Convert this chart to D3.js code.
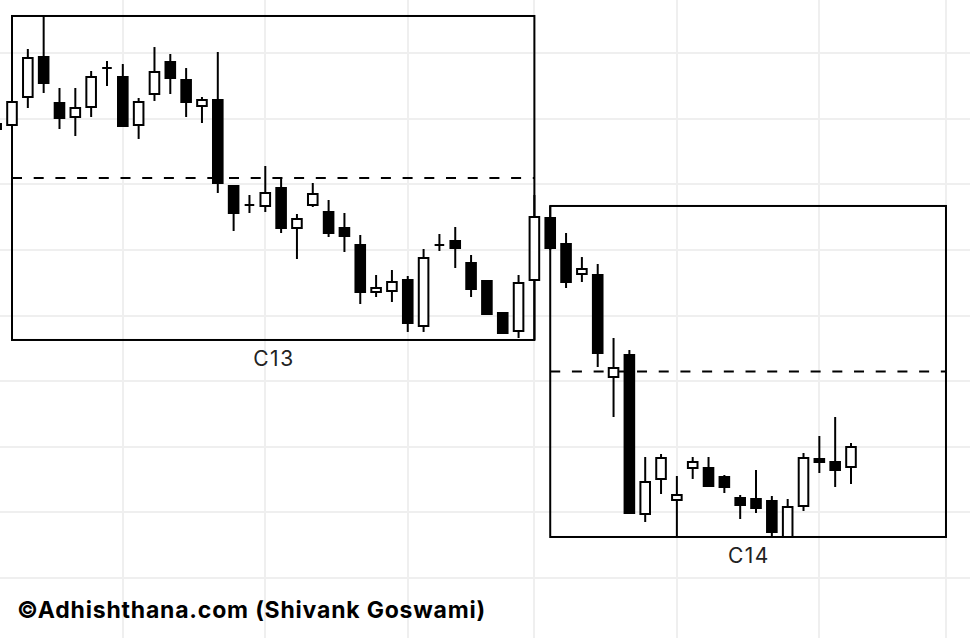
<!DOCTYPE html>
<html>
<head>
<meta charset="utf-8">
<script src="https://cdn.jsdelivr.net/npm/d3@7"></script>
<style>
  html, body { margin: 0; padding: 0; background: #fff; }
  svg { display: block; }
</style>
</head>
<body>
<div id="chart"></div>
<script>
// ---- data ----
const candleIdx = d3.range(0, 55);
const openVals  = [169.18,169.03,173.30,179.39,172.38,170.25,171.77,177.71,176.34,169.03,173.75,178.63,175.89,171.92,172.84,159.73,156.84,156.69,159.43,153.33,156.84,155.77,153.33,150.74,143.58,143.73,145.41,138.40,150.74,151.35,148.00,145.26,140.38,137.64,145.41,154.86,150.90,146.32,146.17,130.63,133.98,109.75,115.09,111.89,116.76,116.76,115.39,112.19,112.04,111.73,106.25,110.97,118.13,117.68,116.91];
const highVals  = [169.49,173.14,180.61,185.64,174.67,174.67,177.26,178.78,178.32,173.14,180.91,179.85,177.71,173.30,180.15,159.73,158.36,162.78,161.10,155.47,160.19,157.60,155.62,152.27,146.17,146.93,146.02,150.13,152.42,153.49,149.22,145.41,140.53,146.17,158.36,156.69,152.57,148.91,147.85,136.57,134.74,118.44,118.90,115.54,118.44,118.44,115.70,112.65,116.46,112.50,112.04,119.05,121.64,124.53,120.57];
const lowVals   = [168.11,168.57,171.62,173.90,168.42,167.35,170.25,174.97,168.72,166.90,172.69,173.75,170.25,169.33,158.67,152.88,155.62,155.77,152.57,148.61,156.53,151.96,149.68,141.75,142.82,142.06,137.49,137.49,149.83,147.24,142.82,140.08,137.33,136.57,136.27,149.98,144.19,145.10,132.15,124.53,109.75,108.53,112.80,106.25,115.09,113.87,112.95,108.99,109.90,106.25,106.25,110.21,116.00,113.87,114.32];
const closeVals = [168.42,172.53,179.24,175.43,170.10,171.62,176.34,177.71,168.88,172.53,177.10,176.19,172.53,172.84,160.19,155.62,156.84,158.67,153.33,154.70,158.51,152.57,152.11,143.58,144.19,145.10,138.86,148.76,150.74,150.29,144.04,140.23,137.33,144.95,155.01,150.29,145.10,147.09,134.29,132.00,109.90,114.63,118.29,112.65,117.68,114.02,113.87,111.12,110.67,107.01,110.82,118.29,117.68,116.46,119.96];

const priceTicks = [100, 110, 120, 130, 140, 150, 160, 170, 180];
const gridIdx = [8, 17, 26, 34, 43, 52, 60];

const boxLabels = ["C13", "C14"];
const boxFirst  = [1, 35];   // first candle in box
const boxLast   = [34, 54];  // last candle in box
const boxEdge   = [34, 60];  // right edge (index)

const creditText = "\u00A9Adhishthana.com (Shivank Goswami)";

// ---- layout ----
const W = 970, H = 638;
const svg = d3.select("#chart").append("svg").attr("width", W).attr("height", H);

const x = d3.scaleLinear().domain([1, 54]).range([12, 851]);
const y = d3.scaleLinear().domain([100, 180]).range([578, 53]);

// grid
const grid = svg.append("g");
grid.selectAll("line.h").data(priceTicks).join("line")
  .attr("x1", 0).attr("x2", W)
  .attr("y1", d => Math.round(y(d))).attr("y2", d => Math.round(y(d)))
  .attr("stroke", "#efefef").attr("stroke-width", 2);
grid.selectAll("line.v").data(gridIdx).join("line")
  .attr("y1", 0).attr("y2", H)
  .attr("x1", d => Math.round(x(d))).attr("x2", d => Math.round(x(d)))
  .attr("stroke", "#efefef").attr("stroke-width", 2);

// boxes
const boxes = boxLabels.map((lab, k) => {
  const idx = d3.range(boxFirst[k], boxLast[k] + 1);
  const hi = d3.max(idx, i => highVals[i]);
  const lo = d3.min(idx, i => lowVals[i]);
  return { lab, x0: x(boxFirst[k]), x1: x(boxEdge[k]), hi, lo, mid: (hi + lo) / 2 };
});
const bg = svg.append("g");
bg.selectAll("rect").data(boxes).join("rect")
  .attr("x", d => d.x0).attr("y", d => y(d.hi))
  .attr("width", d => d.x1 - d.x0).attr("height", d => y(d.lo) - y(d.hi))
  .attr("fill", "none").attr("stroke", "#000").attr("stroke-width", 2);
bg.selectAll("line.mid").data(boxes).join("line")
  .attr("x1", d => d.x0).attr("x2", d => d.x1)
  .attr("y1", d => y(d.mid)).attr("y2", d => y(d.mid))
  .attr("stroke", "#000").attr("stroke-width", 2).attr("stroke-dasharray", "10,11.7");
bg.selectAll("text").data(boxes).join("text")
  .attr("x", d => (d.x0 + d.x1) / 2 + 0.75).attr("y", d => y(d.lo) + 26)
  .attr("text-anchor", "middle")
  .attr("font-family", "Inter, 'Noto Sans', sans-serif")
  .attr("font-size", 21).attr("letter-spacing", 1.5)
  .attr("fill", "#222")
  .text(d => d.lab);

// candles
const bw = 9.6;
const cg = svg.append("g");
const c = cg.selectAll("g").data(candleIdx).join("g");
c.append("line")
  .attr("x1", i => x(i)).attr("x2", i => x(i))
  .attr("y1", i => y(highVals[i])).attr("y2", i => y(lowVals[i]))
  .attr("stroke", "#000").attr("stroke-width", 2);
c.append("path")
  .attr("d", i => {
    const top = y(Math.max(openVals[i], closeVals[i]));
    const h = Math.abs(y(openVals[i]) - y(closeVals[i]));
    const x0 = x(i) - bw / 2;
    return `M${x0},${top}h${bw}v${h}h${-bw}Z`;
  })
  .attr("fill", i => closeVals[i] >= openVals[i] ? "#fff" : "#000")
  .attr("stroke", "#000").attr("stroke-width", 2);

// credit
svg.append("text")
  .attr("x", 17).attr("y", 618)
  .attr("font-family", "Inter, 'Noto Sans', sans-serif")
  .attr("font-weight", 700).attr("font-size", 23).attr("letter-spacing", 0.8)
  .attr("fill", "#000")
  .text(creditText);
</script>
</body>
</html>
